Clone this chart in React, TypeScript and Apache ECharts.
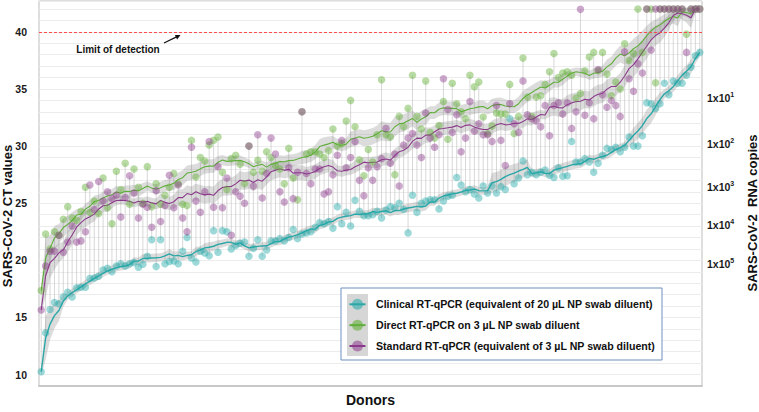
import { useEffect, useRef } from "react";
import * as echarts from "echarts";

// Ct values per donor (donors ordered left to right)
const clinical = [
  10.25, 13.65, 15.7, 16.3, 16.2, 16.8, 17.2, 16.8, 17.6, 17.65, 17.65, 18.4, 18.45, 18.6, 19.15, 19.3, 19.0, 19.5, 19.7, 19.5, 19.7, 19.8, 19.4, 19.65, 20.35,
  21.8, 19.45, 21.8, 19.7, 19.9, 19.95, 19.7, 20.8, 22.0, 20.2, 19.85, 20.8, 20.65, 20.4, 22.6, 20.7, 22.6, 22.5, 21.0, 21.3, 21.5, 21.6, 20.35, 21.05, 21.8,
  20.35, 20.9, 21.7, 21.7, 21.9, 21.7, 22.0, 22.7, 21.9, 22.3, 22.4, 22.5, 22.9, 23.3, 23.2, 23.4, 22.8, 24.7, 23.2, 24.2, 23.0, 25.25, 24.3, 23.9, 23.9,
  24.0, 24.3, 23.7, 24.4, 24.7, 24.6, 25.0, 24.45, 22.4, 25.7, 24.2, 25.0, 25.2, 25.3, 25.3, 24.5, 25.2, 25.6, 25.7, 27.25, 26.6, 26.0, 26.2, 25.8, 25.45,
  26.5, 25.9, 26.5, 25.9, 26.45, 26.2, 32.4, 26.7, 27.2, 28.7, 27.5, 27.7, 27.5, 27.7, 27.9, 27.45, 27.25, 28.1, 27.35, 27.4, 30.4, 28.6, 28.6, 28.9, 28.6,
  27.7, 28.5, 29.2, 29.8, 29.7, 29.9, 29.5, 29.9, 30.8, 30.0, 30.0, 30.9, 33.8, 33.7, 33.3, 33.7, 35.5, 34.5, 35.7, 35.5, 35.5, 36.2, 36.9, 37.9, 38.2,
];
const direct = [
  17.35, 22.3, 21.0, 22.5, 22.2, 23.6, 24.7, 23.7, 23.5, 24.3, 26.4, 24.2, 25.2, 24.1, 27.2, 24.6, 23.2, 27.8, 26.2, 28.5, 24.9, 28.0, 26.4, 25.0, 28.2,
  24.7, 26.7, 24.9, 25.7, 26.4, 27.6, 26.7, 24.9, 24.8, 30.5, 27.3, 29.0, 28.7, 30.1, 30.5, 30.8, 27.7, 26.2, 28.9, 29.2, 28.4, 26.7, 30.0, 27.7, 28.75,
  27.8, 29.5, 29.0, 28.3, 28.0, 26.7, 29.8, 27.2, 25.3, 33.0, 29.3, 29.5, 29.5, 29.3, 29.0, 29.6, 31.5, 30.0, 30.2, 32.2, 34.0, 31.7, 28.8, 27.4, 29.7,
  28.6, 31.0, 35.8, 31.0, 30.8, 27.5, 32.6, 31.7, 33.3, 36.2, 32.6, 31.5, 35.7, 31.2, 30.7, 31.8, 33.9, 30.6, 35.5, 33.7, 33.0, 32.4, 36.2, 35.2, 35.6,
  32.55, 31.1, 31.75, 32.9, 32.8, 32.8, 35.4, 31.1, 32.6, 37.7, 34.3, 32.6, 34.3, 34.4, 35.4, 36.5, 38.1, 36.0, 36.4, 36.5, 36.2, 34.2, 34.6, 36.6, 37.8,
  38.2, 36.6, 38.2, 36.3, 34.4, 35.6, 35.0, 38.96, 37.5, 38.1, 42, 38.2, 42, 42, 35.55, 42, 42, 42, 42, 42, 42, 39.8, 42, 42, 42,
];
const standard = [
  15.65, 19.5, 20.8, 20.8, 22.2, 20.7, 21.6, 23.0, 21.6, 21.7, 22.5, 26.6, 24.45, 26.9, 25.2, 26.0, 25.4, 25.7, 23.8, 25.5, 27.4, 25.9, 23.7, 24.9, 24.65,
  22.9, 26.1, 23.4, 24.8, 27.45, 24.6, 26.6, 23.7, 22.5, 29.9, 25.2, 24.2, 26.0, 30.4, 24.65, 28.2, 24.6, 27.2, 22.2, 26.0, 25.6, 25.0, 30.0, 26.5, 31.0,
  25.45, 27.6, 30.7, 29.3, 26.0, 25.1, 28.1, 25.4, 27.7, 33.0, 27.6, 26.7, 28.0, 28.0, 25.8, 26.0, 27.5, 29.2, 30.5, 28.1, 29.0, 30.4, 27.0, 25.65, 28.1,
  27.0, 28.2, 28.9, 31.55, 28.5, 29.3, 26.5, 30.1, 30.7, 31.1, 30.1, 29.0, 32.9, 30.7, 29.9, 31.0, 35.9, 33.2, 31.2, 32.75, 29.5, 30.7, 33.9, 31.3, 31.95,
  31.0, 31.0, 30.4, 33.55, 30.5, 28.3, 33.7, 31.95, 31.2, 35.7, 32.75, 32.4, 32.2, 31.7, 33.55, 30.9, 33.55, 33.8, 32.8, 33.8, 31.55, 33.0, 41.97, 32.7, 33.8,
  32.4, 36.7, 34.5, 33.4, 34.0, 33.55, 32.6, 38.25, 35.9, 34.8, 37.2, 36.4, 42, 38.4, 42, 42, 42, 42, 42, 42, 42, 38.2, 42, 42, 42,
];

const ctTickLabels = [10, 15, 20, 25, 30, 35, 40];
const copyTickValues = [34.24, 30.17, 26.44, 23.07, 19.65];
const copyTickExponents = [1, 2, 3, 4, 5];
const limitOfDetection = 40;
const seriesNames = [
  "Clinical RT-qPCR (equivalent of 20 µL NP swab diluent)",
  "Direct RT-qPCR on 3 µL NP swab diluent",
  "Standard RT-qPCR (equivalent of 3 µL NP swab diluent)",
];

const donors = clinical.map((_, i) => `Donor ${i + 1}`);

const FONT = "'Liberation Sans', Arial, sans-serif";
const pointColors = ["rgba(31,168,168,0.55)", "rgba(90,172,46,0.55)", "rgba(142,58,142,0.55)"];
const lineColors = ["#2aa7a7", "#5fae3a", "#8b3a8b"];

function smooth(vals: number[], h: number) {
  const n = vals.length;
  return vals.map((_, i) => {
    const k = Math.min(h, i, n - 1 - i);
    let s = 0;
    let c = 0;
    for (let j = i - k; j <= i + k; j++) {
      s += vals[j];
      c++;
    }
    const m = s / c;
    let v = 0;
    for (let j = i - k; j <= i + k; j++) v += (vals[j] - m) * (vals[j] - m);
    const sd = c > 1 ? Math.sqrt(v / (c - 1)) : 0;
    const w = Math.max((sd / Math.sqrt(c)) * 1.2, 0.33);
    return { m, w };
  });
}

export default function App() {
  const ref = useRef<HTMLDivElement>(null);
  useEffect(() => {
    const chart = echarts.init(ref.current!, null, { renderer: "svg" });
    const all = [clinical, direct, standard];
    const halfWin = [4, 7, 7];
    const smoothed = all.map((arr, k) => smooth(arr, halfWin[k]));

    const bandSeries: any[] = [];
    smoothed.forEach((sm, k) => {
      bandSeries.push({
        type: "line",
        stack: "band" + k,
        data: sm.map((p) => +(p.m - p.w).toFixed(3)),
        symbol: "none",
        lineStyle: { opacity: 0 },
        silent: true,
        z: 1,
      });
      bandSeries.push({
        type: "line",
        stack: "band" + k,
        data: sm.map((p) => +(2 * p.w).toFixed(3)),
        symbol: "none",
        lineStyle: { opacity: 0 },
        areaStyle: { color: "rgba(115,115,115,0.36)" },
        silent: true,
        z: 1,
      });
    });

    const lineSeries = smoothed.map((sm, k) => ({
      type: "line",
      data: sm.map((p) => +p.m.toFixed(3)),
      symbol: "none",
      lineStyle: { color: lineColors[k], width: k === 0 ? 1.4 : 1.1 },
      silent: true,
      z: 3,
    }));

    const scatterSeries = all.map((arr, k) => ({
      type: "scatter",
      name: seriesNames[k],
      data: arr,
      symbolSize: 7.5,
      itemStyle: { color: pointColors[k] },
      silent: true,
      z: 4,
      ...(k === 0
        ? {
            markLine: {
              silent: true,
              symbol: ["none", "none"],
              label: { show: false },
              lineStyle: { color: "#ff4d4d", type: [3, 2], width: 1 },
              data: [{ yAxis: limitOfDetection }],
            },
          }
        : {}),
    }));

    const ranges = donors.map((_, i) => {
      const v = [clinical[i], direct[i], standard[i]];
      return [i, Math.min(...v), Math.max(...v)];
    });

    const legendGraphics: any[] = [
      {
        type: "rect",
        z: 100,
        shape: { x: 341, y: 288, width: 321, height: 72 },
        style: { fill: "#ffffff", stroke: "#6f8fbf", lineWidth: 1 },
      },
      {
        type: "rect",
        z: 101,
        shape: { x: 347, y: 294, width: 21, height: 62 },
        style: { fill: "#d6d6d6" },
      },
    ];
    seriesNames.forEach((name, k) => {
      const cy = 304.3 + k * 20.85;
      legendGraphics.push({
        type: "circle",
        z: 102,
        shape: { cx: 357.5, cy, r: 5.5 },
        style: { fill: pointColors[k] },
      });
      legendGraphics.push({
        type: "line",
        z: 103,
        shape: { x1: 349.5, y1: cy, x2: 365.5, y2: cy },
        style: { stroke: lineColors[k], lineWidth: 2 },
      });
      legendGraphics.push({
        type: "text",
        z: 103,
        x: 376,
        y: cy,
        style: { text: name, font: `bold 10.6px ${FONT}`, fill: "#111", align: "left", verticalAlign: "middle" },
      });
    });

    const option: any = {
      animation: false,
      textStyle: { fontFamily: FONT },
      grid: {
        left: 39,
        right: 57,
        top: 1,
        bottom: 19.4,
        show: true,
        borderColor: "#bdbdbd",
        borderWidth: 1,
        backgroundColor: "transparent",
      },
      xAxis: {
        type: "category",
        data: donors,
        axisLabel: { show: false },
        axisTick: { show: false },
        axisLine: { show: true, lineStyle: { color: "#c8c8c8", width: 2 } },
        splitLine: { show: false },
        name: "Donors",
        nameLocation: "middle",
        nameGap: 7,
        nameTextStyle: { fontSize: 14, fontWeight: "bold", color: "#111", fontFamily: FONT },
      },
      yAxis: [
        {
          type: "value",
          min: 9,
          max: 42.7,
          interval: 1,
          axisLine: { show: false },
          axisTick: { show: false },
          splitLine: { lineStyle: { color: "#ececec", width: 1 } },
          axisLabel: {
            margin: 12,
            fontSize: 10.5,
            fontWeight: "bold",
            color: "#1a1a1a",
            formatter: (v: number) => (ctTickLabels.includes(v) ? String(v) : ""),
          },
        },
        {
          type: "value",
          position: "right",
          min: 9,
          max: 42.7,
          axisLine: { show: false },
          axisTick: { show: false },
          splitLine: { show: false },
          axisLabel: {
            customValues: copyTickValues,
            margin: 5,
            formatter: (v: number) => {
              const idx = copyTickValues.findIndex((c) => Math.abs(c - v) < 1e-6);
              return idx < 0 ? "" : `{b|1x10}{s|${copyTickExponents[idx]}}`;
            },
            rich: {
              b: { fontSize: 10.5, fontWeight: "bold", color: "#1a1a1a", lineHeight: 14, fontFamily: FONT },
              s: { fontSize: 7, fontWeight: "bold", color: "#1a1a1a", verticalAlign: "top", fontFamily: FONT },
            },
          },
        },
      ],
      graphic: [
        {
          type: "text",
          z: 100,
          x: 7,
          y: 216,
          rotation: Math.PI / 2,
          style: { text: "SARS-CoV-2 CT values", font: `bold 13px ${FONT}`, fill: "#111", align: "center", verticalAlign: "middle" },
        },
        {
          type: "text",
          z: 100,
          x: 752,
          y: 213,
          rotation: Math.PI / 2,
          style: { text: "SARS-CoV-2  RNA copies", font: `bold 13px ${FONT}`, fill: "#111", align: "center", verticalAlign: "middle" },
        },
        {
          type: "text",
          z: 100,
          x: 118,
          y: 49.3,
          style: { text: "Limit of detection", font: `bold 10px ${FONT}`, fill: "#111", align: "center", verticalAlign: "middle" },
        },
        {
          type: "line",
          z: 100,
          shape: { x1: 164, y1: 43, x2: 177, y2: 36.6 },
          style: { stroke: "#111", lineWidth: 1.2 },
        },
        {
          type: "polygon",
          z: 100,
          shape: { points: [[180.5, 35], [177.1, 39.5], [174.9, 35.0]] },
          style: { fill: "#111" },
        },
        ...legendGraphics,
      ],
      series: [
        {
          type: "custom",
          silent: true,
          z: 0,
          data: ranges,
          encode: { x: 0, y: [1, 2] },
          renderItem: (_params: any, api: any) => {
            const p1 = api.coord([api.value(0), api.value(1)]);
            const p2 = api.coord([api.value(0), api.value(2)]);
            return {
              type: "line",
              shape: { x1: p1[0], y1: p1[1], x2: p2[0], y2: p2[1] },
              style: { stroke: "rgba(190,190,190,0.6)", lineWidth: 1 },
            };
          },
        },
        ...bandSeries,
        ...lineSeries,
        ...scatterSeries,
      ],
    };
    chart.setOption(option);
    return () => chart.dispose();
  }, []);
  return <div ref={ref} style={{ position: "absolute", left: 0, top: 0, width: 759, height: 412 }} />;
}
